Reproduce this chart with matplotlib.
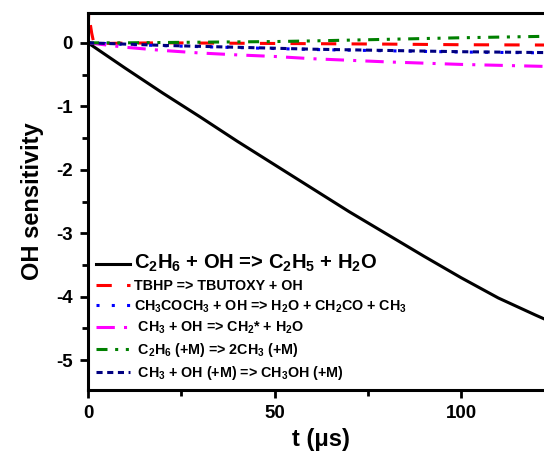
import matplotlib
matplotlib.use("Agg")
import matplotlib.pyplot as plt
from matplotlib.ticker import MultipleLocator

plt.rcParams['font.family'] = ['Liberation Sans', 'DejaVu Sans']
plt.rcParams['font.weight'] = 'bold'
plt.rcParams['mathtext.fontset'] = 'custom'
plt.rcParams['mathtext.rm'] = 'Liberation Sans:bold'
plt.rcParams['mathtext.it'] = 'Liberation Sans:bold'
plt.rcParams['mathtext.bf'] = 'Liberation Sans:bold'
plt.rcParams['mathtext.default'] = 'rm'
plt.rcParams['axes.unicode_minus'] = False

# OH sensitivity traces (t in microseconds)
t_main = [0, 10, 20, 30, 40, 50, 60, 70, 80, 90, 100, 110, 120, 125]
s_c2h6_oh = [0, -0.40, -0.79, -1.165, -1.55, -1.92, -2.29, -2.66, -3.01, -3.36, -3.70, -4.02, -4.29, -4.42]

t_tbhp = [0, 0.2, 0.6, 1.0, 1.4, 2, 4, 10, 20, 50, 80, 100, 125]
s_tbhp = [0, 0.5, 0.3, 0.15, 0.04, 0.0, -0.01, -0.005, 0.0, -0.01, -0.02, -0.03, -0.035]

t_slow = [0, 10, 20, 30, 40, 50, 60, 80, 100, 125]
s_acetone = [0, -0.025, -0.045, -0.06, -0.075, -0.09, -0.105, -0.125, -0.145, -0.16]
s_ch3_oh_ch2 = [0, -0.07, -0.12, -0.16, -0.19, -0.215, -0.25, -0.30, -0.34, -0.375]
s_c2h6_m = [0, 0.0, 0.005, 0.01, 0.015, 0.02, 0.03, 0.055, 0.08, 0.105]
s_ch3oh = [0, -0.02, -0.04, -0.055, -0.07, -0.085, -0.1, -0.12, -0.14, -0.155]

labels = [
    r'$C_2H_6$ + OH => $C_2H_5$ + $H_2O$',
    'TBHP => TBUTOXY + OH',
    r'$CH_3COCH_3$ + OH => $H_2O$ + $CH_2CO$ + $CH_3$',
    r' $CH_3$ + OH => $CH_2$* + $H_2O$',
    r' $C_2H_6$ (+M) => 2$CH_3$ (+M)',
    r' $CH_3$ + OH (+M) => $CH_3OH$ (+M)',
]

fig = plt.figure(figsize=(5.44, 4.55), dpi=100)
ax = fig.add_axes([88 / 544, 65 / 455, (125 * 3.73) / 544, 377 / 455])

ax.plot(t_main, s_c2h6_oh, color='black', lw=2.2, label=labels[0])
ax.plot(t_tbhp, s_tbhp, color='red', lw=2.2, ls=(5, (5, 5)), label=labels[1])
ax.plot(t_slow, s_acetone, color='blue', lw=2.2, ls=(0, (1, 4)), label=labels[2])
ax.plot(t_slow, s_ch3_oh_ch2, color='magenta', lw=2.2, ls=(0, (6, 3, 1, 3)), label=labels[3])
ax.plot(t_slow, s_c2h6_m, color='green', lw=2.2, ls=(0, (3.6, 2.5, 1, 2.5, 1, 2.5)), label=labels[4])
ax.plot(t_slow, s_ch3oh, color='navy', lw=2.2, ls=(0, (2, 1.5)), label=labels[5])

ax.set_xlim(0, 125)
ax.set_ylim(-5.47, 0.47)
ax.xaxis.set_major_locator(MultipleLocator(50))
ax.xaxis.set_minor_locator(MultipleLocator(25))
ax.yaxis.set_major_locator(MultipleLocator(1))
ax.yaxis.set_minor_locator(MultipleLocator(0.5))

for sp in ax.spines.values():
    sp.set_linewidth(2.2)
ax.tick_params(which='major', direction='out', length=6, width=2, labelsize=13.5, pad=5)
ax.tick_params(which='minor', direction='out', length=4, width=2)

ax.set_xlabel('t (μs)', fontsize=17, fontweight='bold', labelpad=4)
ax.set_ylabel('OH sensitivity', fontsize=17, fontweight='bold', labelpad=9)

leg = ax.legend(loc='lower left', frameon=False, fontsize=10.3, handlelength=2.4,
                handletextpad=0.3, labelspacing=0.35, borderaxespad=0.15)
leg.get_texts()[0].set_fontsize(14.5)
# legend swatch for TBHP shows dash-gap-dash, unlike the offset used for the spike
leg.get_lines()[1].set_linestyle((0, (5, 5)))

fig.savefig('out.png', dpi=100)
